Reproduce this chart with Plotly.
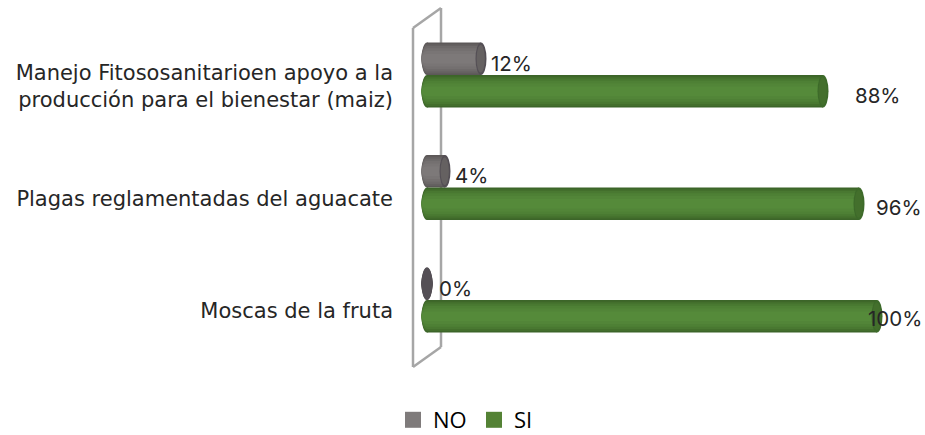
import plotly.graph_objects as go

categories = ["Manejo Fitososanitarioen apoyo a la<br>producción para el bienestar (maiz)",
              "Plagas reglamentadas del aguacate",
              "Moscas de la fruta"]
no_values = [12, 4, 0]
si_values = [88, 96, 100]
no_labels = ["12%", "4%", "0%"]
si_labels = ["88%", "96%", "100%"]

W, H = 925, 435
ML, MB = 400, 35
PLOT_H = H - MB
PLOT_W = W - ML
PX_PER_PCT = 4.5
X0_PX = 427
ROW_PX = 112.5
ROW0_PX = 86

x_range = [(ML - X0_PX) / PX_PER_PCT, (W - X0_PX) / PX_PER_PCT]
y_range = [(PLOT_H - ROW0_PX) / ROW_PX, -ROW0_PX / ROW_PX]

BAR_W = 32.5 / ROW_PX
CAP_RX = 5.5 / PX_PER_PCT
FRACS = [1.0, 0.9, 0.78, 0.64, 0.48, 0.3]
GREENS = ["#3c6529", "#436f2c", "#497831", "#4e8035", "#528538", "#558a3a"]
GREYS = ["#5c5858", "#656161", "#6d6969", "#747070", "#797575", "#7d7979"]

series = [
    ("NO", no_values, GREYS, -43.5 / ROW_PX, "#544f55", "#7f7b7b"),
    ("SI", si_values, GREENS, -11 / ROW_PX, "#3d6a2a", "#548235"),
]

fig = go.Figure()
shapes = []

def wx(px):
    return (px - ML) / PLOT_W
def wy(py):
    return 1 - py / PLOT_H
for (a, b, c, d) in [(413, 367, 413, 28), (441, 347, 441, 8), (413, 28, 441, 8), (413, 367, 441, 347)]:
    shapes.append(dict(type="line", xref="paper", yref="paper", x0=wx(a), y0=wy(b), x1=wx(c), y1=wy(d),
                       line=dict(color="#a6a6a6", width=2.5), layer="below"))

for name, values, colours, offset, cap_col, legend_col in series:
    centre = offset + BAR_W / 2
    for frac, colour in zip(FRACS, colours):
        h = BAR_W * frac
        fig.add_trace(go.Bar(
            y=categories, x=values, orientation="h", name=name,
            width=h, offset=centre - h / 2,
            marker=dict(color=colour, line=dict(width=0)),
            showlegend=False, hoverinfo="skip"))
        for i, v in enumerate(values):
            shapes.append(dict(type="circle", xref="x", yref="y",
                               x0=-CAP_RX, x1=CAP_RX, y0=i + centre - h / 2, y1=i + centre + h / 2,
                               fillcolor=colour if v > 0 else cap_col, line=dict(width=0), layer="below"))
    fig.add_trace(go.Scatter(y=[None], x=[None], mode="markers", name=name,
                             marker=dict(color=legend_col, symbol="square", size=16), showlegend=True))
    for i, v in enumerate(values):
        shapes.append(dict(type="circle", xref="x", yref="y",
                           x0=v - CAP_RX, x1=v + CAP_RX, y0=i + offset, y1=i + offset + BAR_W,
                           fillcolor=cap_col, line=dict(width=0), layer="above"))
        if v > 0:
            shapes.append(dict(type="circle", xref="x", yref="y",
                               x0=v - CAP_RX * 0.8, x1=v + CAP_RX * 0.7,
                               y0=i + centre - BAR_W * 0.42, y1=i + centre + BAR_W * 0.42,
                               fillcolor=colours[1], line=dict(width=0), layer="above"))

LABEL_FONT = dict(family="Inter, DejaVu Sans, sans-serif", size=20.5, color="#262626")
NO_DX = [30, 26, 28]
SI_DX = [55, 40, 18]
NO_DY = [-23, -23, -23]
SI_DY = [9, 9, 7]
annotations = []
for i in range(3):
    annotations.append(dict(x=no_values[i], y=i, xref="x", yref="y", text=no_labels[i], showarrow=False,
                            xshift=NO_DX[i], yshift=-NO_DY[i], font=LABEL_FONT))
    annotations.append(dict(x=si_values[i], y=i, xref="x", yref="y", text=si_labels[i], showarrow=False,
                            xshift=SI_DX[i], yshift=-SI_DY[i], font=LABEL_FONT))

fig.update_layout(
    width=W, height=H, barmode="overlay", showlegend=True,
    paper_bgcolor="white", plot_bgcolor="rgba(0,0,0,0)",
    margin=dict(l=ML, r=0, t=0, b=MB, autoexpand=False),
    shapes=shapes, annotations=annotations,
    xaxis=dict(range=x_range, visible=False),
    yaxis=dict(type="category", categoryorder="array", categoryarray=categories, range=y_range,
               showgrid=False, zeroline=False, showline=False, ticks="", ticklabelstandoff=6,
               tickfont=dict(family="DejaVu Sans, sans-serif", size=21, color="#262626")),
    legend=dict(orientation="h", x=(393 - ML) / PLOT_W, y=-(MB - 36) / PLOT_H, xanchor="left", yanchor="top",
                font=dict(family="Open Sans, sans-serif", size=22, color="#000000"),
                itemwidth=30, entrywidth=36, entrywidthmode="pixels", bgcolor="rgba(0,0,0,0)"),
)
fig.write_html("out.html", config={"displayModeBar": False}, post_script="document.body.style.margin='0';")
